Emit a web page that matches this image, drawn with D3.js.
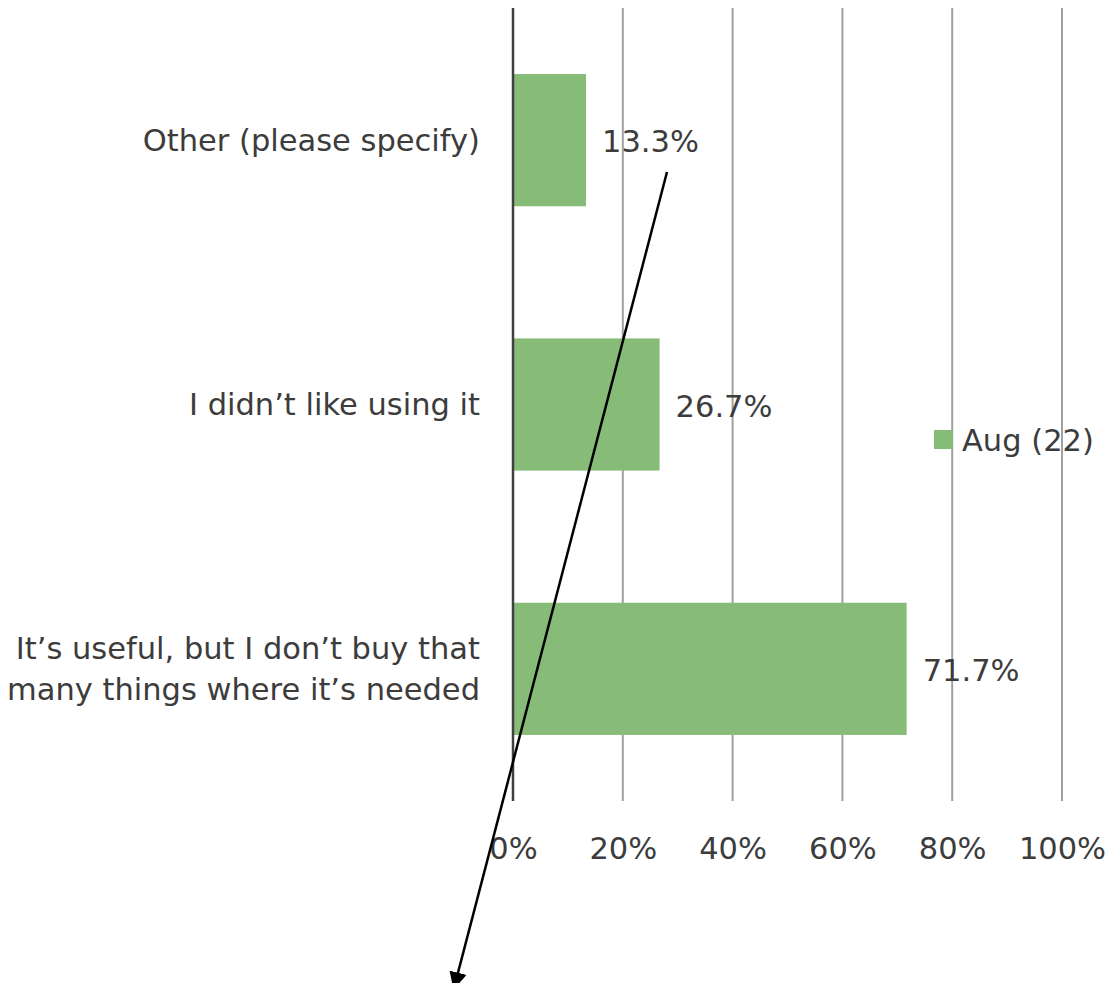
<!DOCTYPE html>
<html>
<head>
<meta charset="utf-8">
<script src="https://cdn.jsdelivr.net/npm/d3@7"></script>
<style>
  html, body { margin: 0; padding: 0; background: #fff; }
  svg { display: block; font-family: "DejaVu Sans", Verdana, sans-serif; }
</style>
</head>
<body>
<svg id="chart" width="1110" height="983"></svg>
<script>
// Survey responses, top to bottom
const categories = [
  ["Other (please specify)"],
  ["I didn\u2019t like using it"],
  ["It\u2019s useful, but I don\u2019t buy that", "many things where it\u2019s needed"]
];
const values = [13.3, 26.7, 71.7];
const seriesName = "Aug (22)";
const tickValues = [0, 20, 40, 60, 80, 100];

const svg = d3.select("#chart");
const margin = { top: 8, left: 513, right: 48, bottom: 182 };
const W = 1110, H = 983;
const innerW = W - margin.left - margin.right;
const innerH = H - margin.top - margin.bottom;

const green = "#86bc77";
const textColor = "#3c3c3c";
const fontSize = "30.5px";

const x = d3.scaleLinear().domain([0, 100]).range([0, innerW]);
const y = d3.scaleBand().domain(d3.range(categories.length)).range([0, innerH]).paddingInner(0.5).paddingOuter(0.25);

const g = svg.append("g").attr("transform", `translate(${margin.left},${margin.top})`);

// vertical gridlines
g.append("g")
  .selectAll("line")
  .data(tickValues.slice(1))
  .join("line")
  .attr("x1", d => x(d)).attr("x2", d => x(d))
  .attr("y1", 0).attr("y2", innerH)
  .attr("stroke", "#a0a0a0").attr("stroke-width", 2);

// bars
g.append("g")
  .selectAll("rect")
  .data(values)
  .join("rect")
  .attr("x", 0)
  .attr("y", (d, i) => y(i))
  .attr("width", d => x(d))
  .attr("height", y.bandwidth())
  .attr("fill", green);

// category axis line
g.append("line")
  .attr("x1", 0).attr("x2", 0).attr("y1", 0).attr("y2", innerH)
  .attr("stroke", "#404040").attr("stroke-width", 2.5);

// x-axis tick labels
const xAxis = d3.axisBottom(x).tickValues(tickValues).tickFormat(d => d + "%").tickSize(0).tickPadding(0);
const ax = g.append("g").attr("transform", `translate(0,${innerH})`).call(xAxis);
ax.select(".domain").remove();
ax.selectAll("text")
  .attr("y", 0)
  .attr("dy", "58px")
  .attr("fill", textColor)
  .attr("font-size", fontSize)
  .attr("font-family", "DejaVu Sans, Verdana, sans-serif");

// category labels
const catG = g.append("g");
categories.forEach((lines, i) => {
  const cy = y(i) + y.bandwidth() / 2;
  const lh = 41;
  const t = catG.append("text")
    .attr("x", -33)
    .attr("text-anchor", "end")
    .attr("fill", textColor)
    .attr("font-size", fontSize);
  lines.forEach((ln, k) => {
    t.append("tspan")
      .attr("x", -33)
      .attr("y", cy + (k - (lines.length - 1) / 2) * lh)
      .attr("dy", "0.35em")
      .text(ln);
  });
});

// value labels
g.append("g")
  .selectAll("text")
  .data(values)
  .join("text")
  .attr("x", d => x(d) + 16)
  .attr("y", (d, i) => y(i) + y.bandwidth() / 2)
  .attr("dy", "0.4em")
  .attr("fill", textColor)
  .attr("font-size", fontSize)
  .text(d => d.toFixed(1) + "%");

// legend
const lg = svg.append("g").attr("transform", "translate(934,430)");
lg.append("rect").attr("width", 19).attr("height", 19).attr("fill", green);
lg.append("text")
  .attr("x", 28).attr("y", 9.5).attr("dy", "0.38em")
  .attr("fill", textColor).attr("font-size", fontSize)
  .text(seriesName);

// annotation arrow
const defs = svg.append("defs");
defs.append("marker")
  .attr("id", "arrowhead")
  .attr("viewBox", "0 0 10 10")
  .attr("refX", 9).attr("refY", 5)
  .attr("markerWidth", 7).attr("markerHeight", 7)
  .attr("orient", "auto")
  .append("path").attr("d", "M0,0 L10,5 L0,10 Z").attr("fill", "#000");
svg.append("line")
  .attr("x1", 667).attr("y1", 172)
  .attr("x2", 454).attr("y2", 988)
  .attr("stroke", "#000").attr("stroke-width", 2.5)
  .attr("marker-end", "url(#arrowhead)");
</script>
</body>
</html>
